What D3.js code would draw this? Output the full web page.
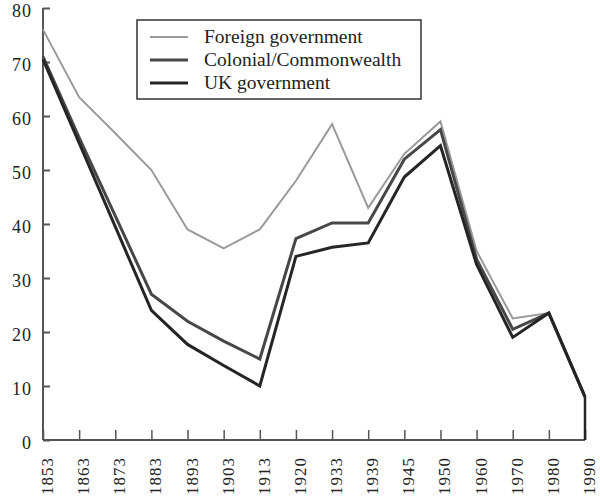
<!DOCTYPE html>
<html><head><meta charset="utf-8">
<script src="https://cdn.jsdelivr.net/npm/d3@7"></script>
<style>
body{margin:0;background:#fff;}
svg{font-family:"Liberation Serif","DejaVu Serif",serif;}
</style></head>
<body><svg id="c" width="600" height="500"></svg>
<script>
const years = ["1853","1863","1873","1883","1893","1903","1913","1920","1933","1939","1945","1950","1960","1970","1980","1990"];
const foreign = [76, 63.5, 56.8, 50, 39, 35.5, 39, 48, 58.5, 43, 53, 59, 35, 22.5, 23.5, 8];
const colonial = [71, 56, 41.5, 27, 22, 18.3, 15, 37.3, 40.2, 40.2, 52, 57.5, 33.5, 20.5, 23.5, 8];
const uk = [70.5, 55, 39.5, 24, 17.7, 13.8, 10, 34, 35.7, 36.5, 48.7, 54.5, 32.5, 19, 23.5, 8];
const yTicks = [0,10,20,30,40,50,60,70,80];
const seriesNames = ["Foreign government","Colonial/Commonwealth","UK government"];

const svg = d3.select("#c");
const x = d3.scalePoint().domain(years).range([43,585]);
const y = d3.scaleLinear().domain([0,80]).range([440,8]);

const series = [
  {name:seriesNames[0], vals:foreign, color:"#9a9a9a", w:2},
  {name:seriesNames[1], vals:colonial, color:"#474747", w:3},
  {name:seriesNames[2], vals:uk, color:"#252525", w:3}
];

// axes
const ya = svg.append("g").attr("transform","translate(43,0)")
  .call(d3.axisRight(y).tickValues(yTicks).tickSize(7).tickFormat(""));
ya.select(".domain").attr("stroke","#555").attr("stroke-width",2).attr("d","M0,"+y(80)+"V"+y(0));
ya.selectAll(".tick line").attr("stroke","#555").attr("stroke-width",2);
svg.append("g").selectAll("text").data(yTicks).join("text")
  .attr("x",32).attr("y",d=>y(d)+9).attr("text-anchor","end")
  .attr("font-size",18).attr("letter-spacing",1).attr("fill","#222").text(d=>d);

const xa = svg.append("g").attr("transform","translate(0,440)")
  .call(d3.axisTop(x).tickSize(10).tickFormat(""));
xa.select(".domain").attr("stroke","#555").attr("stroke-width",2).attr("d","M43,0H585");
xa.selectAll(".tick line").attr("stroke","#555").attr("stroke-width",1.5);
svg.append("g").selectAll("text").data(years).join("text")
  .attr("transform",d=>"translate("+(x(d)+10)+",457) rotate(-90)")
  .attr("text-anchor","end").attr("font-size",17).attr("letter-spacing",1)
  .attr("fill","#222").text(d=>d);

// lines
const line = d3.line().x((d,i)=>x(years[i])).y(d=>y(d));
series.forEach(s=>{
  svg.append("path").datum(s.vals).attr("d",line).attr("fill","none")
    .attr("stroke",s.color).attr("stroke-width",s.w).attr("stroke-linejoin","miter");
});
const last = years[years.length-1];
svg.append("path").attr("d","M"+x(last)+","+y(uk[uk.length-1])+"V"+y(0))
  .attr("stroke","#252525").attr("stroke-width",2.5).attr("fill","none");

// legend
const lg = svg.append("g");
lg.append("rect").attr("x",137).attr("y",20).attr("width",284).attr("height",79)
  .attr("fill","#fff").attr("stroke","#333").attr("stroke-width",1.5);
series.forEach((s,i)=>{
  const yy = 37 + i*23;
  lg.append("line").attr("x1",150).attr("x2",188).attr("y1",yy).attr("y2",yy)
    .attr("stroke",s.color).attr("stroke-width",s.w);
  lg.append("text").attr("x",204).attr("y",yy+6).attr("font-size",19.5).attr("fill","#222").text(s.name);
});
</script></body></html>
